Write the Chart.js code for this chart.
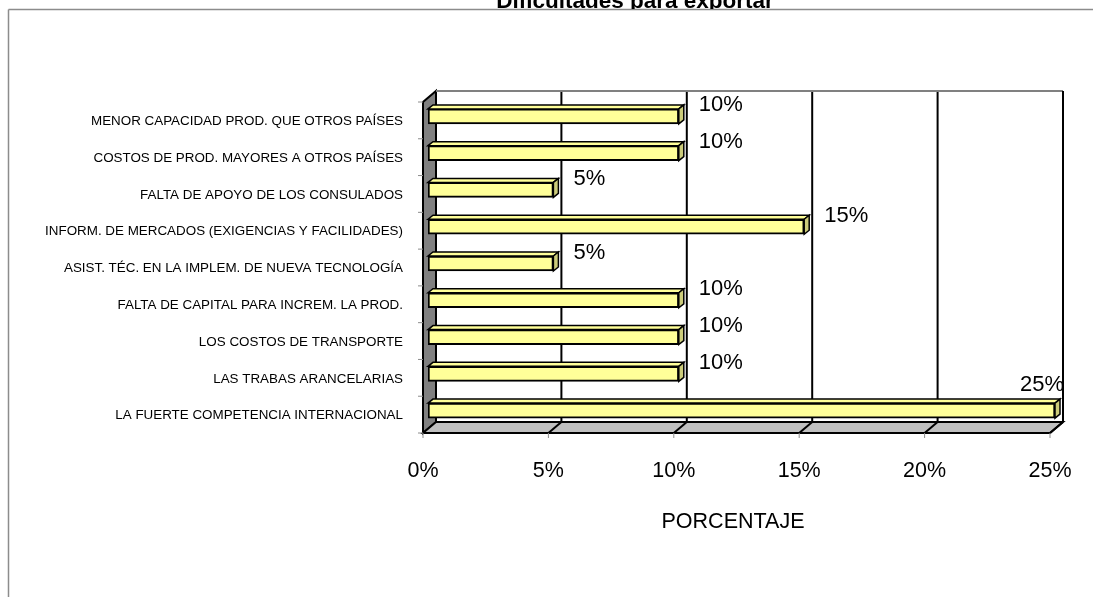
<!DOCTYPE html>
<html>
<head>
<meta charset="utf-8">
<title>Dificultades para exportar</title>
<script src="https://cdn.jsdelivr.net/npm/chart.js@4.4.1/dist/chart.umd.min.js"></script>
<style>
  html, body { margin: 0; padding: 0; background: #fff; }
  #wrap { position: relative; width: 1093px; height: 597px; }
</style>
</head>
<body>
<div id="wrap"><canvas id="chart" width="1093" height="597"></canvas></div>
<script>
const chartTitle = 'Dificultades para exportar';
const axisTitle = 'PORCENTAJE';

const categories = [
  'MENOR CAPACIDAD PROD. QUE OTROS PAÍSES',
  'COSTOS DE PROD. MAYORES A OTROS PAÍSES',
  'FALTA DE APOYO DE LOS CONSULADOS',
  'INFORM. DE MERCADOS (EXIGENCIAS Y FACILIDADES)',
  'ASIST. TÉC. EN LA IMPLEM. DE NUEVA TECNOLOGÍA',
  'FALTA DE CAPITAL PARA INCREM. LA PROD.',
  'LOS COSTOS DE TRANSPORTE',
  'LAS TRABAS ARANCELARIAS',
  'LA FUERTE COMPETENCIA INTERNACIONAL'
];
const percentages = [10, 10, 5, 15, 5, 10, 10, 10, 25];
const xTicks = [0, 5, 10, 15, 20, 25];

const FONT = '"Liberation Sans", Arial, sans-serif';
const BACK = { x: 8, y: -7 };     // back wall offset from the bar plane
const FRONT = { x: -5, y: 4 };    // front edge offset from the bar plane
const BAR_DEPTH = { x: 5, y: -4 };

Chart.defaults.font.family = FONT;
Chart.defaults.color = '#000';

function poly(ctx, pts, fill, stroke, lw) {
  ctx.beginPath();
  ctx.moveTo(pts[0][0], pts[0][1]);
  for (let i = 1; i < pts.length; i++) ctx.lineTo(pts[i][0], pts[i][1]);
  ctx.closePath();
  if (fill) { ctx.fillStyle = fill; ctx.fill(); }
  if (stroke) { ctx.strokeStyle = stroke; ctx.lineWidth = lw || 1; ctx.stroke(); }
}

function line(ctx, x1, y1, x2, y2, color, lw) {
  ctx.beginPath();
  ctx.moveTo(x1, y1);
  ctx.lineTo(x2, y2);
  ctx.strokeStyle = color;
  ctx.lineWidth = lw || 1;
  ctx.stroke();
}

const excel3d = {
  id: 'excel3d',
  beforeDraw(chart) {
    const ctx = chart.ctx;
    ctx.save();
    ctx.fillStyle = '#fff';
    ctx.fillRect(0, 0, chart.width, chart.height);
    // outer frame (only top and left visible)
    line(ctx, 8.5, 9.5, chart.width, 9.5, '#8c8c8c', 1.5);
    line(ctx, 8.5, 9.5, 8.5, chart.height, '#8c8c8c', 1.5);
    // title, cut at the top of the frame
    ctx.beginPath();
    ctx.rect(0, 0, chart.width, 9);
    ctx.clip();
    ctx.font = 'bold 22.5px ' + FONT;
    ctx.fillStyle = '#000';
    ctx.textAlign = 'center';
    ctx.textBaseline = 'alphabetic';
    ctx.fillText(chartTitle, 635, 7.5);
    ctx.restore();
  },
  beforeDatasetsDraw(chart) {
    const { ctx, chartArea: a, scales: { x, y } } = chart;
    const bl = a.left + BACK.x, br = a.right + BACK.x, bt = a.top + BACK.y, bb = a.bottom + BACK.y;
    const fl = a.left + FRONT.x, fr = a.right + FRONT.x, ft = a.top + FRONT.y, fb = a.bottom + FRONT.y;
    ctx.save();
    // back wall
    ctx.fillStyle = '#fff';
    ctx.fillRect(bl, bt, br - bl, bb - bt);
    // side wall and floor
    poly(ctx, [[bl, bt], [bl, bb], [fl, fb], [fl, ft]], '#808080', '#000', 2);
    poly(ctx, [[bl, bb], [br, bb], [fr, fb], [fl, fb]], '#c0c0c0', '#000', 2);
    // grid lines on the wall and the floor
    x.ticks.forEach(t => {
      const px = x.getPixelForValue(t.value);
      if (t.value > 0) {
        line(ctx, px + BACK.x, bt, px + BACK.x, bb, '#000', 2);
        line(ctx, px + BACK.x, bb, px + FRONT.x, fb, '#000', 2);
      }
      line(ctx, px + FRONT.x, fb, px + FRONT.x, fb + 5, '#8c8c8c', 1);
    });
    line(ctx, bl, bt, br, bt, '#808080', 2);
    line(ctx, br, bt, br, bb, '#000', 2);
    // category tick marks on the left edge
    for (let k = 0; k <= categories.length; k++) {
      const py = y.getPixelForValue(k - 0.5) + FRONT.y;
      line(ctx, fl - 5, py, fl, py, '#8c8c8c', 1);
    }
    ctx.restore();
  },
  afterDatasetsDraw(chart) {
    const { ctx, chartArea: a } = chart;
    const meta = chart.getDatasetMeta(0);
    ctx.save();
    meta.data.forEach((el, i) => {
      const p = el.getProps(['x', 'y', 'base', 'height'], true);
      const top = p.y - p.height / 2, bottom = p.y + p.height / 2;
      const dx = BAR_DEPTH.x, dy = BAR_DEPTH.y;
      poly(ctx, [[p.base, top], [p.base + dx, top + dy], [p.x + dx, top + dy], [p.x, top]], '#ffff99', '#000', 1.5);
      poly(ctx, [[p.x, top], [p.x + dx, top + dy], [p.x + dx, bottom + dy], [p.x, bottom]], '#cccc7a', '#000', 1.5);

      // value label
      const text = percentages[i] + '%';
      ctx.font = '22px ' + FONT;
      ctx.fillStyle = '#000';
      ctx.textAlign = 'left';
      ctx.textBaseline = 'middle';
      const w = ctx.measureText(text).width;
      let lx = p.x + 20, ly = p.y - 11;
      if (lx + w > a.right + 9) {
        lx = a.right + 9 - w;
        ly = p.y - 26;
      }
      ctx.fillText(text, lx, ly);
    });
    ctx.restore();
  },
  afterDraw(chart) {
    // axis title sits a little left of the plot centre, as in the source
    const ctx = chart.ctx;
    ctx.save();
    ctx.font = '21.5px ' + FONT;
    ctx.fillStyle = '#000';
    ctx.textAlign = 'center';
    ctx.textBaseline = 'middle';
    ctx.fillText(axisTitle, 733, 522);
    ctx.restore();
  }
};

document.addEventListener('DOMContentLoaded', () => {
  const ctx = document.getElementById('chart').getContext('2d');
  new Chart(ctx, {
    type: 'bar',
    data: {
      labels: categories,
      datasets: [{
        label: axisTitle,
        data: percentages,
        backgroundColor: '#ffff99',
        borderColor: '#000',
        borderWidth: 2,
        borderSkipped: false,
        barThickness: 15
      }]
    },
    options: {
      indexAxis: 'y',
      responsive: false,
      animation: false,
      events: [],
      layout: { padding: { top: 98, right: 38, bottom: 0, left: 0 } },
      plugins: {
        legend: { display: false },
        tooltip: { enabled: false },
        title: { display: false }
      },
      scales: {
        x: {
          type: 'linear',
          min: 0,
          max: 25,
          afterBuildTicks: s => { s.ticks = xTicks.map(v => ({ value: v })); },
          afterFit: s => { s.height = 168; s.paddingLeft = 0; s.paddingRight = 0; },
          ticks: {
            callback: v => v + '%',
            font: { size: 21.5 },
            color: '#000',
            padding: 21,
            labelOffset: -5,
            maxRotation: 0
          },
          grid: { display: false },
          border: { display: false },
          title: { display: false }
        },
        y: {
          type: 'category',
          afterFit: s => { s.width = 428; },
          ticks: {
            font: { size: 13.4 },
            color: '#000',
            padding: 17,
            labelOffset: 5,
            autoSkip: false
          },
          grid: { display: false },
          border: { display: false }
        }
      }
    },
    plugins: [excel3d]
  });
});
</script>
</body>
</html>
